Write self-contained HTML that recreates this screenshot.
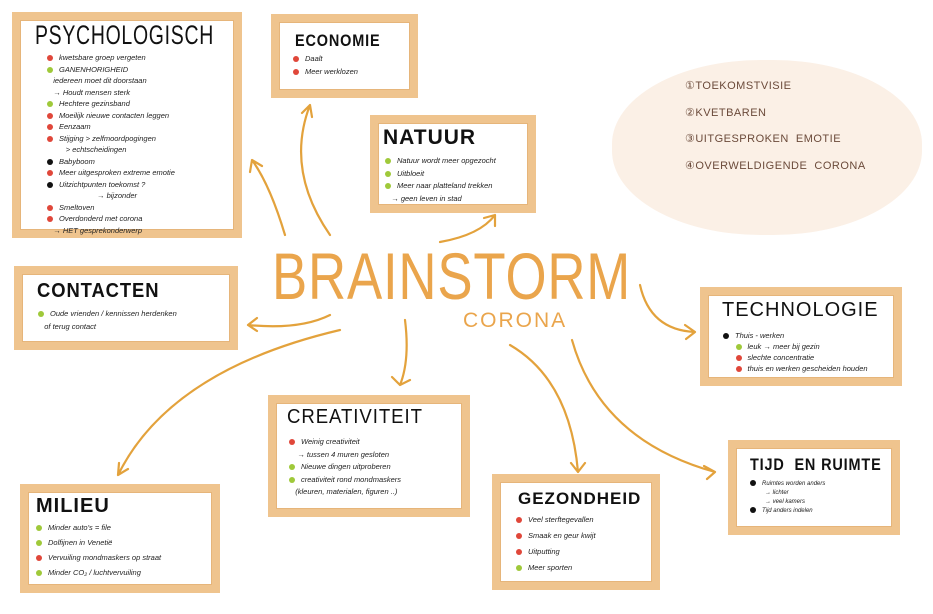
<!DOCTYPE html>
<html><head><meta charset="utf-8"><style>
body{margin:0;width:933px;height:614px;background:#fff;position:relative;overflow:hidden;font-family:"Liberation Sans",sans-serif;}
.b{position:absolute;background:#fff;border:8px solid #efc48e;box-sizing:border-box;box-shadow:0 0 0 1px #e6b57a inset;}
.t{position:absolute;font-weight:bold;color:#111;white-space:nowrap;letter-spacing:1px;transform-origin:left top}
.l{position:absolute;font-size:7.5px;color:#222;white-space:nowrap;font-style:italic;line-height:12.5px}
.d{display:inline-block;width:6px;height:6px;border-radius:50%;margin-right:6px;vertical-align:middle}
.r{background:#e0473a}.g{background:#9fc93a}.k{background:#111}
svg{position:absolute;left:0;top:0}
</style></head><body>
<div style="position:absolute;left:612px;top:60px;width:310px;height:175px;border-radius:48%;background:#fbf0e6"></div>
<div style="position:absolute;left:685px;top:73px;font-size:11px;color:#6b4a3a;line-height:26.5px;letter-spacing:.5px">①TOEKOMSTVISIE<br>②KVETBAREN<br>③UITGESPROKEN &nbsp;EMOTIE<br>④OVERWELDIGENDE &nbsp;CORONA</div>

<svg width="933" height="614" fill="none" stroke="#e3a23c" stroke-width="2.2" stroke-linecap="round">
<path d="M285 235 Q270 185 252 160 M252 160 l-2 12 M252 160 l10 6"/>
<path d="M330 235 Q285 170 310 105 M310 105 l-8 8 M310 105 l2 12"/>
<path d="M440 242 Q480 235 495 215 M495 215 l-11 3 M495 215 l0 11"/>
<path d="M330 315 Q300 330 248 325 M248 325 l9 -7 M248 325 l9 6"/>
<path d="M640 285 Q650 330 695 332 M695 332 l-10 -7 M695 332 l-9 7"/>
<path d="M405 320 Q410 360 400 385 M400 385 l-8 -8 M400 385 l10 -5"/>
<path d="M340 330 Q170 370 118 475 M118 475 l1 -12 M118 475 l10 -6"/>
<path d="M510 345 Q570 380 578 472 M578 472 l-7 -9 M578 472 l7 -9"/>
<path d="M572 340 Q600 440 715 472 M715 472 l-11 -6 M715 472 l-8 7"/>
</svg>

<div style="position:absolute;left:272px;top:243px;font-size:66px;color:#eaa54c;letter-spacing:1px;font-weight:300;line-height:66px;transform:scaleX(0.8);transform-origin:left top;white-space:nowrap">BRAINSTORM</div>
<div style="position:absolute;left:463px;top:309px;font-size:21px;color:#eaa54c;letter-spacing:2px">CORONA</div>

<div class="b" style="left:12px;top:12px;width:230px;height:226px"></div>
<div class="t" style="left:35px;top:20px;font-size:27px;font-weight:normal;transform:scaleX(0.72)">PSYCHOLOGISCH</div>
<div class="l" style="left:47px;top:52px;line-height:11.5px"><span class="d r"></span>kwetsbare groep vergeten<br><span class="d g"></span>GANENHORIGHEID<br>&nbsp;&nbsp;&nbsp;iedereen moet dit doorstaan<br>&nbsp;&nbsp;&nbsp;→ Houdt mensen sterk<br><span class="d g"></span>Hechtere gezinsband<br><span class="d r"></span>Moeilijk nieuwe contacten leggen<br><span class="d r"></span>Eenzaam<br><span class="d r"></span>Stijging &gt; zelfmoordpogingen<br>&nbsp;&nbsp;&nbsp;&nbsp;&nbsp;&nbsp;&nbsp;&nbsp;&nbsp;&gt; echtscheidingen<br><span class="d k"></span>Babyboom<br><span class="d r"></span>Meer uitgesproken extreme emotie<br><span class="d k"></span>Uitzichtpunten toekomst ?<br>&nbsp;&nbsp;&nbsp;&nbsp;&nbsp;&nbsp;&nbsp;&nbsp;&nbsp;&nbsp;&nbsp;&nbsp;&nbsp;&nbsp;&nbsp;&nbsp;&nbsp;&nbsp;&nbsp;&nbsp;&nbsp;&nbsp;&nbsp;&nbsp;→ bijzonder<br><span class="d r"></span>Smeltoven<br><span class="d r"></span>Overdonderd met corona<br>&nbsp;&nbsp;&nbsp;→ HET gesprekonderwerp</div>

<div class="b" style="left:271px;top:14px;width:147px;height:84px"></div>
<div class="t" style="left:295px;top:31px;font-size:17px;transform:scaleX(0.85)">ECONOMIE</div>
<div class="l" style="left:293px;top:53px"><span class="d r"></span>Daalt<br><span class="d r"></span>Meer werklozen</div>

<div class="b" style="left:370px;top:115px;width:166px;height:98px"></div>
<div class="t" style="left:383px;top:126px;font-size:21px">NATUUR</div>
<div class="l" style="left:385px;top:155px"><span class="d g"></span>Natuur wordt meer opgezocht<br><span class="d g"></span>Uitbloeit<br><span class="d g"></span>Meer naar platteland trekken<br>&nbsp;&nbsp;&nbsp;→ geen leven in stad</div>

<div class="b" style="left:14px;top:266px;width:224px;height:84px"></div>
<div class="t" style="left:37px;top:280px;font-size:20px;transform:scaleX(0.92)">CONTACTEN</div>
<div class="l" style="left:38px;top:308px"><span class="d g"></span>Oude vrienden / kennissen herdenken<br>&nbsp;&nbsp;&nbsp;of terug contact</div>

<div class="b" style="left:700px;top:287px;width:202px;height:99px"></div>
<div class="t" style="left:722px;top:299px;font-size:20px;font-weight:normal">TECHNOLOGIE</div>
<div class="l" style="left:723px;top:330px;line-height:11px"><span class="d k"></span>Thuis - werken<br>&nbsp;&nbsp;&nbsp;&nbsp;&nbsp;&nbsp;<span class="d g"></span>leuk → meer bij gezin<br>&nbsp;&nbsp;&nbsp;&nbsp;&nbsp;&nbsp;<span class="d r"></span>slechte concentratie<br>&nbsp;&nbsp;&nbsp;&nbsp;&nbsp;&nbsp;<span class="d r"></span>thuis en werken gescheiden houden</div>

<div class="b" style="left:268px;top:395px;width:202px;height:122px"></div>
<div class="t" style="left:287px;top:406px;font-size:20px;font-weight:normal;transform:scaleX(0.93)">CREATIVITEIT</div>
<div class="l" style="left:289px;top:436px"><span class="d r"></span>Weinig creativiteit<br>&nbsp;&nbsp;&nbsp;&nbsp;→ tussen 4 muren gesloten<br><span class="d g"></span>Nieuwe dingen uitproberen<br><span class="d g"></span>creativiteit rond mondmaskers<br>&nbsp;&nbsp;&nbsp;(kleuren, materialen, figuren ..)</div>

<div class="b" style="left:728px;top:440px;width:172px;height:95px"></div>
<div class="t" style="left:750px;top:455px;font-size:17px;transform:scaleX(0.85)">TIJD &nbsp;EN RUIMTE</div>
<div class="l" style="left:750px;top:480px;font-size:6px;line-height:9px"><span class="d k"></span>Ruimtes worden anders<br>&nbsp;&nbsp;&nbsp;&nbsp;&nbsp;&nbsp;&nbsp;&nbsp;&nbsp;→ lichter<br>&nbsp;&nbsp;&nbsp;&nbsp;&nbsp;&nbsp;&nbsp;&nbsp;&nbsp;→ veel kamers<br><span class="d k"></span>Tijd anders indelen</div>

<div class="b" style="left:492px;top:474px;width:168px;height:116px"></div>
<div class="t" style="left:518px;top:489px;font-size:17px">GEZONDHEID</div>
<div class="l" style="left:516px;top:512px;line-height:16px"><span class="d r"></span>Veel sterftegevallen<br><span class="d r"></span>Smaak en geur kwijt<br><span class="d r"></span>Uitputting<br><span class="d g"></span>Meer sporten</div>

<div class="b" style="left:20px;top:484px;width:200px;height:109px"></div>
<div class="t" style="left:36px;top:495px;font-size:20px">MILIEU</div>
<div class="l" style="left:36px;top:520px;line-height:15px"><span class="d g"></span>Minder auto's = file<br><span class="d g"></span>Dolfijnen in Venetië<br><span class="d r"></span>Vervuiling mondmaskers op straat<br><span class="d g"></span>Minder CO₂ / luchtvervuiling</div>
</body></html>
